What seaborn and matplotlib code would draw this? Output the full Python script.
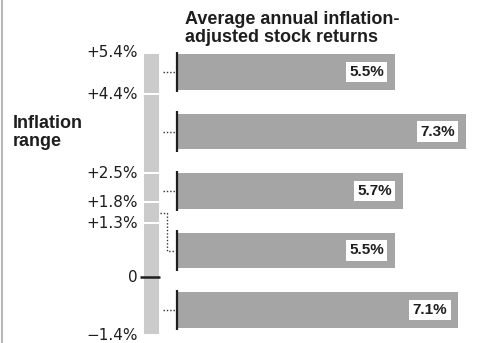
import matplotlib
matplotlib.use("Agg")
import matplotlib.pyplot as plt
from matplotlib.lines import Line2D
import pandas as pd
import seaborn as sns

# Inflation ranges (lower, upper bound, % per year) and the real stock return for each
range_low = [4.4, 2.5, 1.8, 1.3, -1.4]
range_high = [5.4, 4.4, 2.5, 1.8, 1.3]
stock_returns = [5.5, 7.3, 5.7, 5.5, 7.1]
return_labels = ["5.5%", "7.3%", "5.7%", "5.5%", "7.1%"]

# Tick values and labels on the inflation column
inflation_ticks = [5.4, 4.4, 2.5, 1.8, 1.3, 0.0, -1.4]
inflation_tick_labels = ["+5.4%", "+4.4%", "+2.5%", "+1.8%", "+1.3%", "0", "\u22121.4%"]

title_text = "Average annual inflation-\nadjusted stock returns"
side_text = "Inflation\nrange"

W, H = 480, 343
BAR_COLOR = "#a5a5a5"
COL_COLOR = "#cbcbcb"
INK = "#1e1e1e"

sns.set_theme(style="white")
plt.rcParams["font.family"] = ["DejaVu Sans"]

fig = plt.figure(figsize=(W / 100, H / 100), dpi=100)
fig.patch.set_facecolor("white")

# --- returns bars -------------------------------------------------------
ax_bar = fig.add_axes([177 / W, (H - 339.75) / H, (W - 177) / W, 297.5 / H])
df = pd.DataFrame({
    "range": [f"{lo}..{hi}" for lo, hi in zip(range_low, range_high)],
    "ret": stock_returns,
})
sns.barplot(data=df, x="ret", y="range", orient="h", color=BAR_COLOR,
            saturation=1, width=0.59, edgecolor="none", ax=ax_bar)
ax_bar.set_xlim(0, (W - 177) / 39.6)
ax_bar.set_ylim(4.5, -0.5)
ax_bar.set_axis_off()

for i, (val, lab) in enumerate(zip(stock_returns, return_labels)):
    ax_bar.vlines(0, i - 0.34, i + 0.34, color=INK, lw=1.6, clip_on=False)
    ax_bar.annotate(lab, xy=(val, i), xytext=(-11, 0), textcoords="offset pixels",
                    ha="right", va="center", fontsize=11, fontweight="bold",
                    family=["Liberation Sans", "DejaVu Sans"], color=INK,
                    bbox=dict(boxstyle="square,pad=0.22", fc="white", ec="none"))

# --- inflation column ---------------------------------------------------
ax_col = fig.add_axes([130 / W, 0, 45 / W, 1])
ax_col.set_xlim(0, 45)
ax_col.set_ylim(-(H - 277) / 41.5, 277 / 41.5)
ax_col.set_axis_off()
ax_col.bar([21] * len(range_low),
           [hi - lo for lo, hi in zip(range_low, range_high)],
           bottom=range_low, width=17, color=COL_COLOR,
           edgecolor="white", linewidth=1.4)
ax_col.hlines(0, 10, 29.5, color=INK, lw=1.8)
for v, lab in zip(inflation_ticks, inflation_tick_labels):
    ax_col.text(8, v, lab, ha="right", va="center", fontsize=11, color=INK)

# --- dotted connectors from each range to its bar -----------------------
to_fig = fig.transFigure.inverted()
dot_style = dict(color="#333333", lw=1.0, linestyle=(0, (1, 1.4)))
for i, (lo, hi) in enumerate(zip(range_low, range_high)):
    y_bar = ax_bar.transData.transform((0, i))[1]
    y_lo = ax_col.transData.transform((0, lo))[1]
    y_hi = ax_col.transData.transform((0, hi))[1]
    if y_lo <= y_bar <= y_hi:
        pts = [(163, y_bar), (175, y_bar)]
    else:
        y_mid = ax_col.transData.transform((0, (lo + hi) / 2))[1]
        pts = [(160, y_mid), (167, y_mid), (167, y_bar), (175, y_bar)]
    fpts = to_fig.transform(pts)
    fig.add_artist(Line2D(fpts[:, 0], fpts[:, 1], **dot_style))

# --- headings -----------------------------------------------------------
fig.text(185 / W, 1 - 11 / H, title_text, ha="left", va="top", fontsize=13,
         fontweight="bold", family=["Liberation Sans", "DejaVu Sans"],
         color=INK, linespacing=1.05)
fig.text(13 / W, 1 - 115 / H, side_text, ha="left", va="top", fontsize=13,
         fontweight="bold", family=["Liberation Sans", "DejaVu Sans"],
         color=INK, linespacing=1.05)

# thin rule along the left edge
fig.add_artist(Line2D([1.5 / W, 1.5 / W], [0, 1], color="#b8b8b8", lw=1.5))

fig.savefig("out.png", dpi=100)
